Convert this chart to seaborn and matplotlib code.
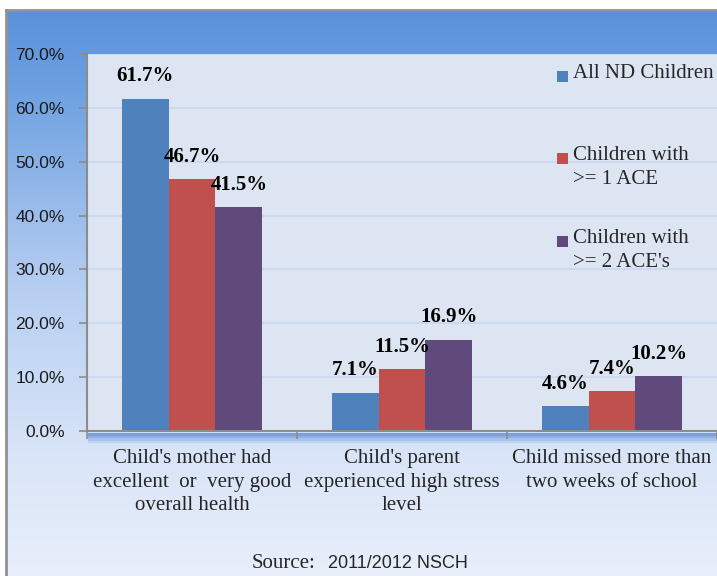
import numpy as np
import pandas as pd
import matplotlib
matplotlib.use("Agg")
import matplotlib.pyplot as plt
import seaborn as sns
from matplotlib.colors import LinearSegmentedColormap
from matplotlib.patches import Rectangle
from matplotlib.ticker import FuncFormatter, FixedLocator

# Data (percent)
categories = [
    "Child's mother had\nexcellent  or  very good\noverall health",
    "Child's parent\nexperienced high stress\nlevel",
    "Child missed more than\ntwo weeks of school",
]
series_names = ["All ND Children", "Children with\n>= 1 ACE", "Children with\n>= 2 ACE's"]
all_nd = [61.7, 7.1, 4.6]
ace_1 = [46.7, 11.5, 7.4]
ace_2 = [41.5, 16.9, 10.2]
colors = ["#4F81BD", "#C0504D", "#604A7B"]

# Long-form table for seaborn
rows = []
for name, vals in zip(series_names, [all_nd, ace_1, ace_2]):
    for cat, v in zip(categories, vals):
        rows.append({"category": cat, "series": name, "value": v})
df = pd.DataFrame(rows)

sns.set_style("white")
plt.rcParams["font.family"] = ["Liberation Serif", "DejaVu Serif"]

fig = plt.figure(figsize=(7.17, 5.76), dpi=100)
fig.patch.set_facecolor("white")

# Background: blue gradient panel with grey frame
bg = fig.add_axes([6 / 717, 0, 1 - 6 / 717, 1 - 10 / 576], zorder=-10)
grad_cmap = LinearSegmentedColormap.from_list(
    "bg", [(0, "#5A91DB"), (0.12, "#6A9EE0"), (0.5, "#B8CFF2"), (0.78, "#D8E4F7"), (1, "#E8EFFB")]
)
bg.imshow(np.linspace(0, 1, 256).reshape(-1, 1), aspect="auto", cmap=grad_cmap,
          extent=[0, 1, 0, 1], origin="upper")
bg.set_xlim(0, 1)
bg.set_ylim(0, 1)
bg.set_xticks([])
bg.set_yticks([])
for side in ["right", "bottom"]:
    bg.spines[side].set_visible(False)
for side in ["left", "top"]:
    bg.spines[side].set_color("#929292")
    bg.spines[side].set_linewidth(2)

# Plot area
ax = fig.add_axes([87 / 717, 1 - 431 / 576, 1 - 87 / 717, (431 - 54) / 576])
ax.set_facecolor("#DCE5F1")

sns.barplot(data=df, x="category", y="value", hue="series", order=categories,
            hue_order=series_names, palette=colors, width=0.67, saturation=1,
            legend=False, ax=ax, linewidth=0, zorder=3)

ax.set_ylim(0, 70)
ax.set_xlim(-0.5, 2.5)
ax.set_yticks(np.arange(0, 71, 10))
ax.yaxis.set_major_formatter(FuncFormatter(lambda v, p: f"{v:.1f}%"))
ax.grid(axis="y", color="#C9D8EF", linewidth=1.2, zorder=0)
ax.set_xlabel("")
ax.set_ylabel("")

for side in ["top", "right"]:
    ax.spines[side].set_visible(False)
for side in ["left", "bottom"]:
    ax.spines[side].set_color("#8C8C8C")
    ax.spines[side].set_linewidth(1.5)
    ax.spines[side].set_zorder(5)

ax.tick_params(axis="y", direction="out", length=6, width=1.2, color="#8C8C8C",
               pad=10, left=True)
for lab in ax.get_yticklabels():
    lab.set_fontfamily(["Liberation Sans", "DejaVu Sans"])
    lab.set_fontsize(12.5)
    lab.set_color("#1A1A1A")

ax.tick_params(axis="x", which="major", length=0, pad=13, labelsize=15)
for lab in ax.get_xticklabels():
    lab.set_linespacing(1.33)
ax.xaxis.set_minor_locator(FixedLocator([-0.5, 0.5, 1.5, 2.5]))
ax.tick_params(axis="x", which="minor", direction="out", length=6, width=1.2,
               color="#8C8C8C", bottom=True)

# Value labels
for cont, vals in zip(ax.containers, [all_nd, ace_1, ace_2]):
    ax.bar_label(cont, labels=[f"{v:.1f}%" for v in vals], padding=9,
                 fontsize=15, fontweight="bold", color="black")

# Blue shadow under the x axis
for i, a in enumerate([0.6, 0.45, 0.3, 0.15]):
    fig.add_artist(Rectangle((88 / 717, 1 - (433 + 2.5 * (i + 1)) / 576), 1, 2.5 / 576,
                             transform=fig.transFigure, color="#3F75C9", alpha=a,
                             linewidth=0, zorder=-5))

# Legend (drawn by hand so the swatch lines up with the first text line)
for i, (name, col) in enumerate(zip(series_names, colors)):
    y = 1 - (76 + i * 82.5) / 576
    fig.add_artist(Rectangle((557 / 717, y - 5.5 / 576), 11 / 717, 11 / 576,
                             transform=fig.transFigure, color=col, linewidth=0))
    fig.text(573 / 717, y + 12 / 576, name, fontsize=15, va="top", ha="left",
             linespacing=1.35)

# Source note
fig.text(252 / 717, 1 - 563 / 576, "Source:", fontsize=15, va="center", ha="left")
fig.text(328 / 717, 1 - 563 / 576, "2011/2012 NSCH", fontsize=13, va="center", ha="left",
         family=["Liberation Sans", "DejaVu Sans"])

fig.savefig("out.png", dpi=100)
